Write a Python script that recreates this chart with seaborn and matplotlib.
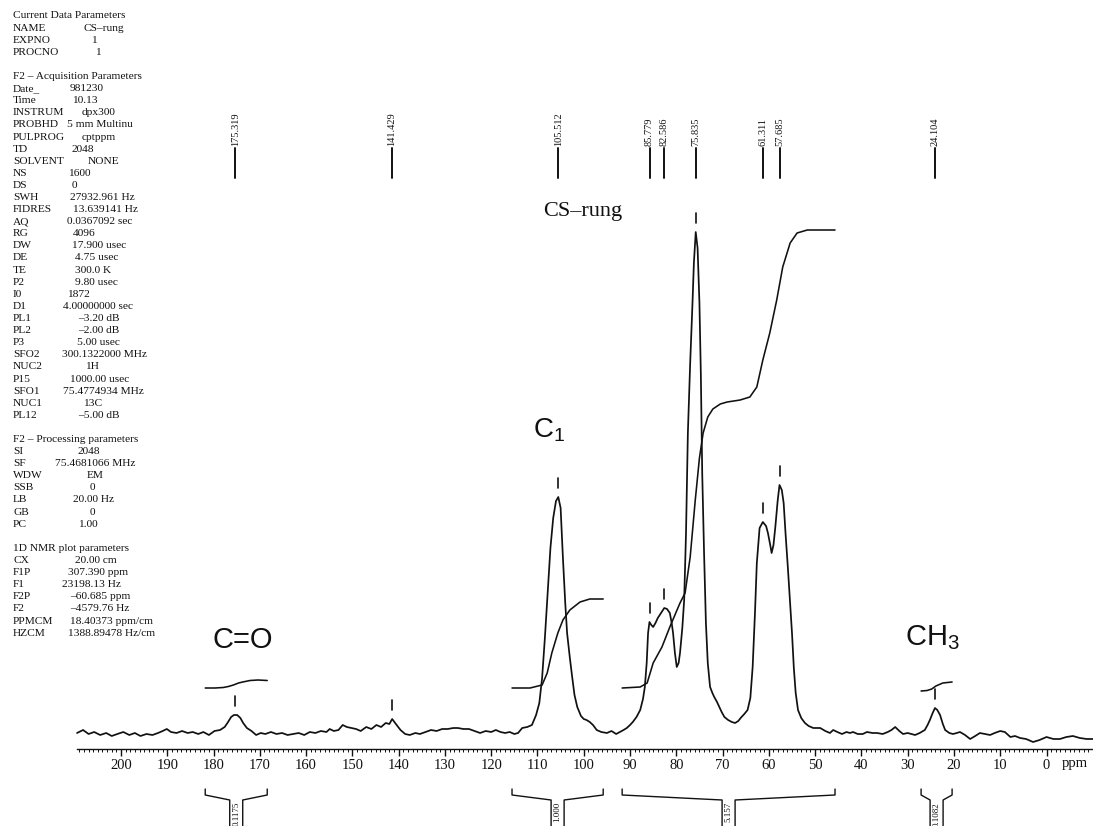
import numpy as np
import pandas as pd
import matplotlib
matplotlib.use("Agg")
import matplotlib.pyplot as plt
import seaborn as sns
from matplotlib.ticker import FixedLocator

# ---------------- data ----------------
spec_ppm = [209.5, 208.2, 207.0, 205.8, 204.5, 203.2, 202.0, 200.8, 199.5, 198.2, 197.0, 195.8,
            194.5, 193.2, 192.0, 191.0, 190.1, 189.2, 188.0, 186.8, 185.6, 184.5, 183.3, 182.2,
            181.0, 179.8, 178.6, 177.6, 177.0, 176.2, 175.6, 174.9, 174.2, 173.6, 172.8, 171.8,
            170.8, 169.8, 168.8, 167.6, 166.4, 165.2, 164.0, 162.8, 161.6, 160.4, 159.2, 158.0,
            156.8, 155.6, 154.9, 154.0, 153.0, 152.1, 151.2, 150.2, 149.2, 148.2, 147.0, 145.9,
            144.8, 143.8, 142.8, 142.0, 141.4, 140.6, 139.6, 138.6, 137.6, 136.4, 135.4, 134.2,
            133.0, 131.8, 130.6, 129.4, 128.2, 127.2, 126.0, 124.8, 123.6, 122.4, 121.2, 120.0,
            119.0, 118.0, 117.0, 116.0, 115.0, 114.2, 113.3, 112.2, 111.2, 110.3, 109.6, 109.0,
            108.4, 107.8, 107.2, 106.6, 106.0, 105.5, 105.0, 104.5, 104.0, 103.6, 103.0, 102.5,
            102.0, 101.4, 100.6, 100.0, 99.4, 98.7, 98.0, 97.2, 96.2, 95.0, 94.0, 93.0,
            92.2, 91.4, 90.7, 90.0, 89.4, 88.6, 87.8, 87.2, 86.8, 86.4, 86.1, 85.8,
            85.4, 85.0, 84.5, 84.0, 83.3, 82.6, 82.0, 81.4, 81.0, 80.7, 80.3, 79.9,
            79.5, 79.2, 78.7, 78.3, 77.9, 77.5, 77.0, 76.5, 76.2, 75.8, 75.4, 75.0,
            74.7, 74.4, 74.0, 73.6, 73.2, 72.7, 72.2, 71.8, 71.2, 70.7, 70.2, 69.6,
            68.8, 68.0, 67.3, 66.6, 66.1, 65.3, 64.6, 64.0, 63.5, 63.0, 62.6, 62.0,
            61.3, 60.6, 60.2, 59.7, 59.4, 59.0, 58.6, 58.1, 57.7, 57.2, 56.8, 56.4,
            55.9, 55.4, 55.0, 54.6, 54.2, 53.7, 53.0, 52.2, 51.4, 50.4, 49.5, 48.9,
            47.8, 46.8, 46.1, 45.2, 44.2, 43.2, 42.5, 41.8, 40.8, 39.7, 38.8, 37.6,
            36.6, 35.4, 34.3, 33.5, 32.7, 31.8, 31.0, 30.0, 29.2, 28.4, 27.4, 26.3,
            25.7, 25.2, 24.6, 24.1, 23.6, 23.0, 22.4, 21.9, 21.0, 20.2, 19.4, 18.7,
            17.6, 16.5, 15.4, 14.4, 13.3, 12.2, 11.2, 10.0, 9.0, 7.8, 6.8, 5.7,
            4.4, 2.9, 1.5, 0.0, -1.5, -2.9, -4.3, -5.7, -7.2, -8.7, -10.0]
spec_int = [0, 3, -1, 1, -2, 0, -3, -1, 1, -2, 0, -3,
            -1, -2, 0, 2, 4, 1, 0, 2, 0, 1, -1, 1,
            -2, 2, 3, 6, 10, 16, 18, 18, 15, 10, 5, 2,
            -2, 0, -1, 1, -1, 0, -2, -1, 0, -2, 1, 0,
            2, 1, 4, 2, 3, 8, 6, 5, 4, 2, 6, 4,
            8, 6, 10, 9, 14, 9, 3, -1, -2, 0, -1, 1,
            3, 2, 4, 4, 5, 5, 4, 4, 2, 0, 2, 1,
            3, 1, 0, 1, -1, 0, 5, 6, 8, 18, 30, 55,
            95, 140, 185, 215, 232, 236, 225, 175, 130, 100, 75, 56,
            38, 26, 17, 14, 13, 11, 8, 3, 1, 0, 2, -1,
            1, 3, 5, 8, 11, 16, 23, 34, 46, 70, 100, 111,
            108, 106, 110, 115, 120, 125, 124, 120, 110, 100, 80, 66,
            70, 80, 105, 133, 200, 300, 370, 430, 470, 501, 485, 430,
            360, 260, 180, 110, 70, 46, 40, 36, 31, 26, 21, 16,
            13, 11, 10, 12, 15, 19, 23, 35, 66, 120, 170, 205,
            211, 207, 200, 188, 180, 188, 206, 232, 248, 243, 230, 200,
            166, 130, 100, 65, 40, 23, 15, 10, 7, 5, 5, 5,
            2, 0, 3, 1, -1, 1, 0, 1, -1, -1, 1, 0,
            0, -1, 1, 3, 6, 2, -1, 0, -1, -2, 0, 3,
            8, 13, 20, 25, 23, 18, 9, 3, 0, -1, 0, 1,
            -2, -6, -3, 0, -1, -2, 0, 2, 1, -4, -3, -5,
            -6, -9, -7, -4, -6, -6, -4, -3, -5, -6, -6]

# integral traces
int_co_ppm = [181.8, 179.7, 177.9, 176.8, 175.7, 174.6, 173.7, 172.1, 170.4, 168.4]
int_co_val = [45, 45, 45.5, 46.5, 48, 50, 51, 52.5, 53, 52.5]
int_c1_ppm = [115.5, 111.6, 109.0, 107.9, 106.9, 105.6, 104.5, 103.0, 100.8, 98.7, 95.8]
int_c1_val = [45, 45, 48, 60, 80, 100, 113, 123, 131, 134, 134]
int_main_ppm = [91.7, 87.8, 86.3, 85.0, 83.1, 81.4, 79.2, 78.1, 77.0, 75.9, 75.0, 74.2,
                73.2, 72.1, 70.5, 69.0, 66.2, 64.1, 62.6, 61.3, 59.8, 58.3, 57.0, 55.4,
                53.9, 51.7, 45.7]
int_main_val = [45, 46, 50, 70, 86, 106, 130, 140, 176, 233, 275, 300,
                316, 324, 329, 331, 333, 336, 346, 373, 400, 433, 466, 490,
                500, 503, 503]
int_ch3_ppm = [27.1, 25.8, 24.8, 23.9, 22.4, 20.4]
int_ch3_val = [42, 42.5, 44, 47, 50, 51]
integral_labels = ["0.1175", "1.000", "5.157", "0.1082"]

# peak picking
peak_ppm = [175.319, 141.429, 105.512, 85.779, 82.586, 75.835, 61.311, 57.685, 24.104]
peak_height = [18, 14, 236, 111, 125, 501, 211, 248, 25]

axis_ticks = list(range(0, 201, 10))

param_rows = [
    ("Current Data Parameters", ""), ("NAME", "CS\u2013rung"), ("EXPNO", "1"), ("PROCNO", "1"),
    ("", ""),
    ("F2 \u2013 Acquisition Parameters", ""), ("Date_", "981230"), ("Time", "10.13"),
    ("INSTRUM", "dpx300"), ("PROBHD", "5 mm Multinu"), ("PULPROG", "cptppm"),
    ("TD", "2048"), ("SOLVENT", "NONE"), ("NS", "1600"), ("DS", "0"),
    ("SWH", "27932.961 Hz"), ("FIDRES", "13.639141 Hz"), ("AQ", "0.0367092 sec"),
    ("RG", "4096"), ("DW", "17.900 usec"), ("DE", "4.75 usec"), ("TE", "300.0 K"),
    ("P2", "9.80 usec"), ("I0", "1872"), ("D1", "4.00000000 sec"), ("PL1", "\u20133.20 dB"),
    ("PL2", "\u20132.00 dB"), ("P3", "5.00 usec"), ("SFO2", "300.1322000 MHz"),
    ("NUC2", "1H"), ("P15", "1000.00 usec"), ("SFO1", "75.4774934 MHz"),
    ("NUC1", "13C"), ("PL12", "\u20135.00 dB"),
    ("", ""),
    ("F2 \u2013 Processing parameters", ""), ("SI", "2048"), ("SF", "75.4681066 MHz"),
    ("WDW", "EM"), ("SSB", "0"), ("LB", "20.00 Hz"), ("GB", "0"), ("PC", "1.00"),
    ("", ""),
    ("1D NMR plot parameters", ""), ("CX", "20.00 cm"), ("F1P", "307.390 ppm"),
    ("F1", "23198.13 Hz"), ("F2P", "\u201360.685 ppm"), ("F2", "\u20134579.76 Hz"),
    ("PPMCM", "18.40373 ppm/cm"), ("HZCM", "1388.89478 Hz/cm"),
]

# ---------------- layout (pixels of the 1093x826 page) ----------------
value_x_px = [0, 83, 91, 95, 0, 0, 70, 72, 82, 67, 82, 72, 88, 68, 72, 70, 73, 67, 73, 72,
              75, 75, 75, 67, 63, 78, 78, 77, 62, 85, 70, 63, 83, 78, 0, 0, 78, 55, 87, 90,
              73, 90, 78, 0, 0, 75, 68, 62, 70, 70, 70, 68]

W, H = 1093, 826
PXPP = 4.6275          # pixels per ppm
X0 = 1046.5            # pixel of 0 ppm
BASE = 733             # pixel row of spectrum baseline


def ppm_of(px):
    return (X0 - px) / PXPP


def h_of(py):
    return BASE - py


sns.set_theme(style="white")
plt.rcParams['font.family'] = ['Liberation Serif', 'DejaVu Serif']
plt.rcParams['mathtext.fontset'] = 'custom'
plt.rcParams['mathtext.rm'] = 'Liberation Sans'
plt.rcParams['mathtext.default'] = 'rm'

fig = plt.figure(figsize=(W / 100, H / 100), dpi=100)
ax = fig.add_axes([0, 0, 1, 1])
ax.set_facecolor('white')
ax.set_xlim(ppm_of(0), ppm_of(W))
ax.set_ylim(h_of(H), h_of(0))

lc = '#111111'
spec = pd.DataFrame({'ppm': spec_ppm, 'intensity': spec_int})
sns.lineplot(data=spec, x='ppm', y='intensity', sort=False, estimator=None,
             color=lc, lw=1.25, ax=ax)
for xs, ys in [(int_co_ppm, int_co_val), (int_c1_ppm, int_c1_val),
               (int_main_ppm, int_main_val), (int_ch3_ppm, int_ch3_val)]:
    sns.lineplot(x=xs, y=ys, sort=False, estimator=None, color=lc, lw=1.15, ax=ax)

# peak markers above each peak and peak labels at the top
for p, hgt in zip(peak_ppm, peak_height):
    ax.plot([p, p], [hgt + 9, hgt + 19], color=lc, lw=1.2)
    ax.plot([p, p], [h_of(178), h_of(148)], color=lc, lw=1.4)
    ax.text(p, h_of(146), f"{p:.3f}", rotation=90, ha='center', va='bottom',
            fontsize=7.5, color=lc)

# integral brackets below the axis
half = 6.5 / PXPP
for xs, lab in zip([int_co_ppm, int_c1_ppm, int_main_ppm, int_ch3_ppm], integral_labels):
    a, b = xs[0], xs[-1]
    c = (a + b) / 2
    ax.plot([a, a, c + half, c + half], [h_of(789), h_of(795), h_of(800), h_of(H + 2)],
            color=lc, lw=1.0, clip_on=False)
    ax.plot([b, b, c - half, c - half], [h_of(789), h_of(795), h_of(800), h_of(H + 2)],
            color=lc, lw=1.0, clip_on=False)
    ax.text(c, h_of(802), lab, rotation=90, ha='center', va='top', fontsize=6.5, color=lc)

# axis
for s in ['top', 'left', 'right']:
    ax.spines[s].set_visible(False)
ax.spines['bottom'].set_position(('data', h_of(749)))
ax.spines['bottom'].set_bounds(ppm_of(77), ppm_of(W))
ax.spines['bottom'].set_color(lc)
ax.spines['bottom'].set_linewidth(1.0)
ax.xaxis.set_major_locator(FixedLocator(axis_ticks))
ax.xaxis.set_minor_locator(FixedLocator(np.arange(-10, 210, 1)))
ax.set_xticklabels([str(t) for t in axis_ticks])
ax.tick_params(axis='x', which='major', direction='out', length=5, width=1.0,
               colors=lc, labelsize=10.5, pad=2, bottom=True)
ax.tick_params(axis='x', which='minor', direction='out', length=2, width=0.7,
               colors=lc, bottom=True)
ax.set_yticks([])
ax.set_xlabel('')
ax.set_ylabel('')
ax.grid(False)
ax.text(ppm_of(1062), h_of(764), 'ppm', ha='left', va='center', fontsize=10.5, color=lc)

# group labels
sans = ['Liberation Sans', 'DejaVu Sans']
ax.text(ppm_of(212), h_of(648), 'C=O', family=sans, fontsize=21, ha='left',
        va='baseline', color=lc)
ax.text(ppm_of(533), h_of(438), 'C$_1$', family=sans, fontsize=20, ha='left',
        va='baseline', color=lc)
ax.text(ppm_of(905), h_of(645), 'CH$_3$', family=sans, fontsize=21, ha='left',
        va='baseline', color=lc)
ax.text(ppm_of(543), h_of(216), 'CS\u2013rung', fontsize=16, ha='left',
        va='baseline', color=lc)

# parameter listing
for i, (name, val) in enumerate(param_rows):
    y = 1 - (16 + 12.1 * i) / H
    if name:
        fig.text(13 / W, y, name, fontsize=8.2, ha='left', va='center', color=lc)
    if val:
        fig.text(value_x_px[i] / W, y, val, fontsize=8.2, ha='left', va='center', color=lc)

fig.savefig('out.png', dpi=100, facecolor='white')
